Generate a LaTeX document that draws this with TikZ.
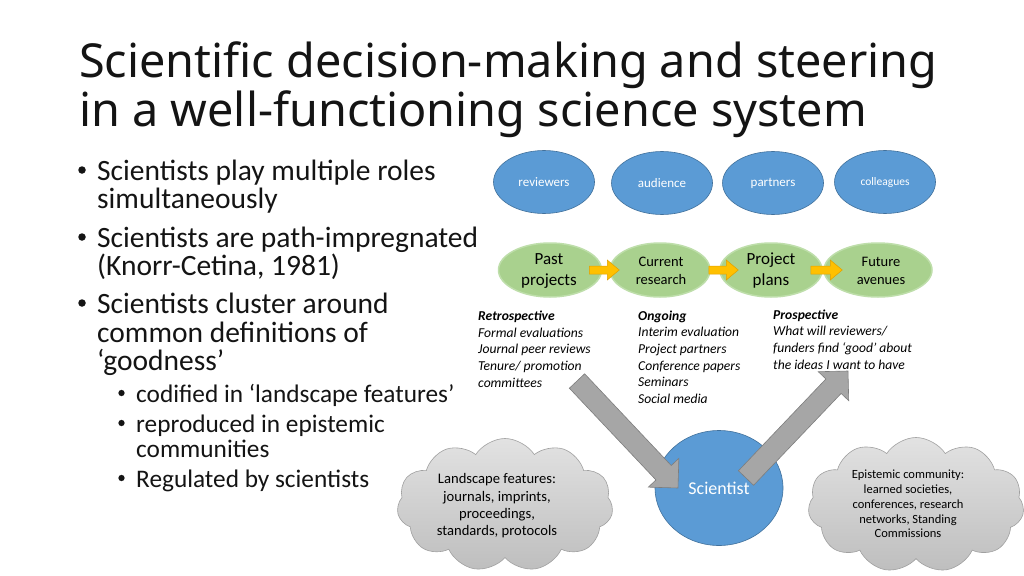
\documentclass[tikz,border=0pt]{standalone}
\usepackage{fontspec}
\setmainfont{Carlito}
\newfontfamily\titlefont{Noto Sans}
\usetikzlibrary{calc,shapes.geometric,shapes.symbols}
\definecolor{oblue}{RGB}{91,155,213}
\definecolor{oblueline}{RGB}{65,113,156}
\definecolor{ogreen}{RGB}{169,209,142}
\definecolor{ogreenlt}{RGB}{190,222,170}
\definecolor{oyellow}{RGB}{255,192,0}
\definecolor{oyellowline}{RGB}{225,160,0}
\definecolor{agray}{RGB}{166,166,166}
\definecolor{agrayline}{RGB}{125,125,125}
\definecolor{cloudtop}{RGB}{226,226,226}
\definecolor{cloudbot}{RGB}{190,190,190}
\definecolor{cloudline}{RGB}{160,160,160}
\definecolor{inktext}{RGB}{20,20,20}
\newcommand\myblockarrow[6]{%
  \coordinate (bah) at ($(#3)!#6!(#2)$);
  \path[#1] ($(#2)!#4!90:(#3)$) -- ($(bah)!#4!90:(#3)$) -- ($(bah)!#5!90:(#3)$) -- (#3)
    -- ($(bah)!#5!-90:(#3)$) -- ($(bah)!#4!-90:(#3)$) -- ($(#2)!#4!-90:(#3)$) -- cycle;}
\begin{document}
\begin{tikzpicture}[x=1pt,y=-1pt,
  every node/.style={text=inktext},
  titleline/.style={anchor=base west, inner sep=0pt, font=\titlefont\fontsize{46.8}{48}\selectfont},
  mainline/.style={anchor=base west, inner sep=0pt, font=\fontsize{29.5}{30}\selectfont},
  subline/.style={anchor=base west, inner sep=0pt, font=\fontsize{25.3}{26}\selectfont},
  mainbullet/.style={circle, fill=inktext, inner sep=0pt, minimum size=7.5pt},
  subbullet/.style={circle, fill=inktext, inner sep=0pt, minimum size=6.3pt},
  role/.style={ellipse, fill=oblue, draw=oblueline, line width=0.6pt, inner sep=0pt,
    minimum width=101pt, minimum height=63pt, text=white, font=\fontsize{13}{15}\selectfont},
  phase/.style={ellipse, fill=ogreen, draw=ogreenlt, line width=1.5pt, inner sep=0pt, minimum height=54pt},
  phasetxt/.style={align=center, inner sep=0pt, text=black},
  listline/.style={anchor=base west, inner sep=0pt, text=black, font=\fontsize{13.6}{15}\selectfont\itshape},
  listhead/.style={listline, font=\fontsize{13.6}{15}\selectfont\bfseries\itshape},
  yarrow/.style={fill=oyellow, draw=oyellowline, line width=0.5pt},
  garrow/.style={fill=agray, draw=agrayline, line width=0.6pt},
  cloudbox/.style={cloud, cloud puffs=11, cloud puff arc=115, aspect=1.6, inner sep=0pt,
    shading=axis, top color=cloudtop, bottom color=cloudbot, draw=cloudline, line width=0.6pt},
  cloudtxt/.style={align=center, inner sep=0pt, text=black},
]
\useasboundingbox (0,0) rectangle (1024,575);
\fill[white] (0,0) rectangle (1024,575);

% title
\node[titleline] (t1) at (79,78) {Scientific decision-making and steering};
\node[titleline] (t2) at (79,126.5) {in a well-functioning science system};

% bullets
\node[mainbullet] (d1) at (82,170) {};
\node[mainline] (b1a) at (97,180) {Scientists play multiple roles};
\node[mainline] (b1b) at (97,208) {simultaneously};
\node[mainbullet] (d2) at (82,237) {};
\node[mainline] (b2a) at (97,247) {Scientists are path-impregnated};
\node[mainline] (b2b) at (97,275) {(Knorr-Cetina, 1981)};
\node[mainbullet] (d3) at (82,303) {};
\node[mainline] (b3a) at (97,313) {Scientists cluster around};
\node[mainline] (b3b) at (97,342) {common definitions of};
\node[mainline] (b3c) at (97,370) {‘goodness’};
\node[subbullet] (s1d) at (121.5,393) {};
\node[subline] (s1) at (136,402) {codified in ‘landscape features’};
\node[subbullet] (s2d) at (121.5,423) {};
\node[subline] (s2a) at (136,432) {reproduced in epistemic};
\node[subline] (s2b) at (136,457) {communities};
\node[subbullet] (s3d) at (121.5,478) {};
\node[subline] (s3) at (136,487) {Regulated by scientists};

% roles
\node[role] (rev) at (544,182) {reviewers};
\node[role] (aud) at (662,183) {audience};
\node[role] (par) at (773,183) {partners};
\node[role, font=\fontsize{11.5}{13}\selectfont] (col) at (885,182) {colleagues};

% phases
\node[phase, minimum width=103pt] (past) at (550,270) {};
\node[phase, minimum width=100pt] (curr) at (660,270) {};
\node[phase, minimum width=102pt] (plan) at (771,270) {};
\node[phase, minimum width=108pt] (fut) at (878,270) {};
\node[phasetxt, font=\fontsize{17}{21}\selectfont] (pastT) at (549,271) {Past\\projects};
\node[phasetxt, font=\fontsize{14.5}{18}\selectfont] (currT) at (661,271) {Current\\research};
\node[phasetxt, font=\fontsize{17}{21}\selectfont] (planT) at (771,271) {Project\\plans};
\node[phasetxt, font=\fontsize{14.5}{18}\selectfont] (futT) at (881,271) {Future\\avenues};
\coordinate (y1a) at ($(past.east)+(-13,0)$);
\coordinate (y1b) at ($(curr.west)+(10,0)$);
\coordinate (y2a) at ($(curr.east)+(-2,0)$);
\coordinate (y2b) at ($(plan.west)+(19,0)$);
\coordinate (y3a) at ($(plan.east)+(-12,0)$);
\coordinate (y3b) at ($(fut.west)+(19,0)$);
\myblockarrow{yarrow}{y1a}{y1b}{4pt}{10pt}{12pt}
\myblockarrow{yarrow}{y2a}{y2b}{4pt}{10pt}{12pt}
\myblockarrow{yarrow}{y3a}{y3b}{4pt}{10pt}{12pt}

% lists
\node[listhead] (rh) at (478,320.5) {Retrospective};
\foreach \t [count=\i] in {{Formal evaluations},{Journal peer reviews},{Tenure/ promotion},{committees}}
  \node[listline] (r\i) at (478,320.5+16.67*\i) {\t};
\node[listhead] (oh) at (638,320) {Ongoing};
\foreach \t [count=\i] in {{Interim evaluation},{Project partners},{Conference papers},{Seminars},{Social media}}
  \node[listline] (o\i) at (638,320+16.67*\i) {\t};
\node[listhead] (ph) at (773,319.3) {Prospective};
\foreach \t [count=\i] in {{What will reviewers/},{funders find ‘good’ about},{the ideas I want to have}}
  \node[listline] (p\i) at (773,319.3+16.6*\i) {\t};

% scientist
\node[ellipse, fill=oblue, draw=oblueline, line width=0.6pt, minimum width=128pt, minimum height=115pt,
  inner sep=0pt] (sci) at (719,488) {};
\coordinate (g1tail) at (577,381);
\coordinate (g1tip) at ($(sci.center)+(-41,0)$);
\coordinate (g2tail) at ($(sci.center)+(27,-10)$);
\coordinate (g2tip) at (848,371);
\myblockarrow{garrow}{g1tail}{g1tip}{10.5pt}{21pt}{21pt}
\myblockarrow{garrow}{g2tail}{g2tip}{10.5pt}{21pt}{21pt}
\node[text=white, inner sep=0pt, font=\fontsize{18}{20}\selectfont] (sciT) at (719,488) {Scientist};

% clouds
\node[cloudbox, minimum width=216pt, minimum height=133pt] (lcloud) at (505,505) {};
\node[cloudtxt, font=\fontsize{14.6}{17.3}\selectfont] (lcloudT) at (497,506) {Landscape features:\\journals, imprints,\\proceedings,\\standards, protocols};
\node[cloudbox, minimum width=216pt, minimum height=135pt] (rcloud) at (916,505) {};
\node[cloudtxt, font=\fontsize{12.5}{14.8}\selectfont] (rcloudT) at (908,504) {Epistemic community:\\learned societies,\\conferences, research\\networks, Standing\\Commissions};
\end{tikzpicture}
\end{document}
